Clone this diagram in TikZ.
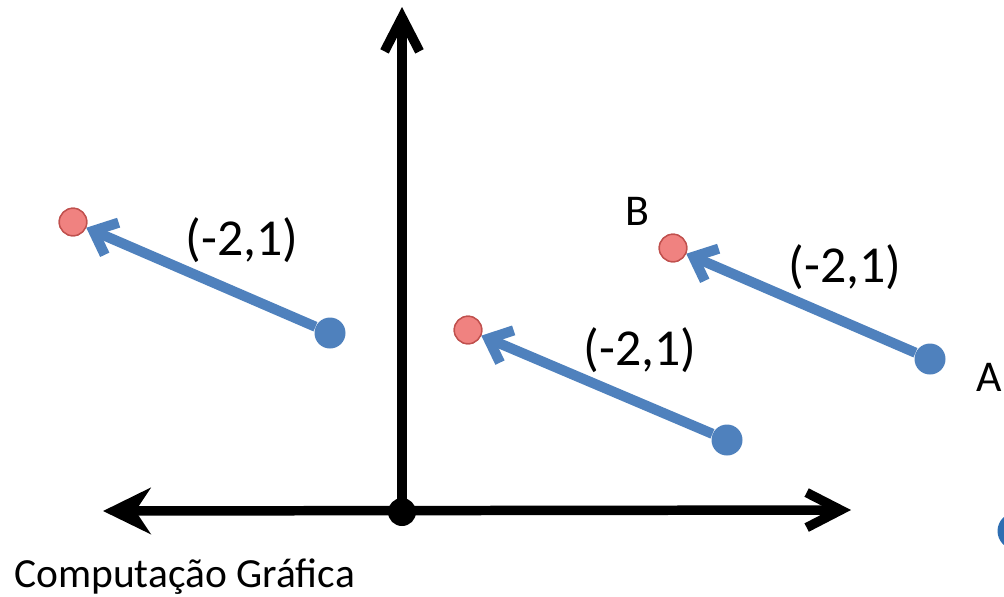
\documentclass[tikz,border=0pt]{standalone}
\usepackage{fontspec}
\setmainfont{Carlito}
\usepackage{xcolor}
\usepackage{tikz}
\usetikzlibrary{arrows.meta,positioning,calc}

\definecolor{vecblue}{RGB}{79,129,189}
\definecolor{dotred}{RGB}{240,130,128}
\definecolor{rimred}{RGB}{192,80,77}
\definecolor{darkblue}{RGB}{46,110,178}

\begin{document}
\begin{tikzpicture}[
  x=0.02cm, y=-0.02cm,
  axis/.style={line width=5.4pt, black},
  vec/.style={line width=5.8pt, vecblue, -{Straight Barb[length=0.4cm, width=0.7cm]}},
  tail/.style={circle, fill=vecblue, inner sep=0pt, minimum size=0.62cm},
  head/.style={circle, fill=dotred, draw=rimred, line width=0.8pt, inner sep=0pt, minimum size=0.55cm},
  lbl/.style={font=\fontsize{29.5}{31}\selectfont, inner sep=0pt},
  pt/.style={font=\fontsize{25}{27}\selectfont, inner sep=0pt}
]
  \useasboundingbox (0,0) rectangle (1004,596);

  % axes
  \coordinate (xl) at (103,511);
  \coordinate (xr) at (851,510);
  \coordinate (yt) at (402,7);
  \node[circle, fill=black, inner sep=0pt, minimum size=0.56cm] (o) at (402,512) {};
  \draw[axis, {Stealth[length=0.95cm, width=0.92cm, inset=0.3cm]}-{Straight Barb[length=0.68cm, width=0.7cm]}] (xl) -- (xr);
  \draw[axis, -{Straight Barb[length=0.68cm, width=0.7cm]}] (o.center) -- (yt);

  % vectors
  \node[tail] (a1) at (330,333) {};
  \node[head] (b1) at (73,222) {};
  \node[tail] (a2) at (727,440) {};
  \node[head] (b2) at (468,330) {};
  \node[tail] (a3) at (930,359) {};
  \node[head] (b3) at (673,248) {};

  \draw[vec] (a1) -- (b1);
  \draw[vec] (a2) -- (b2);
  \draw[vec] (a3) -- (b3);
  \node[head] at (b1) {};
  \node[head] at (b2) {};
  \node[head] at (b3) {};

  \node[lbl] (l1) at (242,240) {(-2,1)};
  \node[lbl] (l2) at (640,350) {(-2,1)};
  \node[lbl] (l3) at (845,267) {(-2,1)};

  \node[pt] (B) at (637,211) {B};
  \node[pt, anchor=west] (A) at (976,377) {A};

  \node[circle, fill=darkblue, inner sep=0pt, minimum size=0.74cm] (c) at (1016,531) {};

  \node[font=\fontsize{23.6}{25}\selectfont, anchor=base west, inner sep=0pt] (title) at (14,587) {Computação Gráfica};
\end{tikzpicture}
\end{document}
